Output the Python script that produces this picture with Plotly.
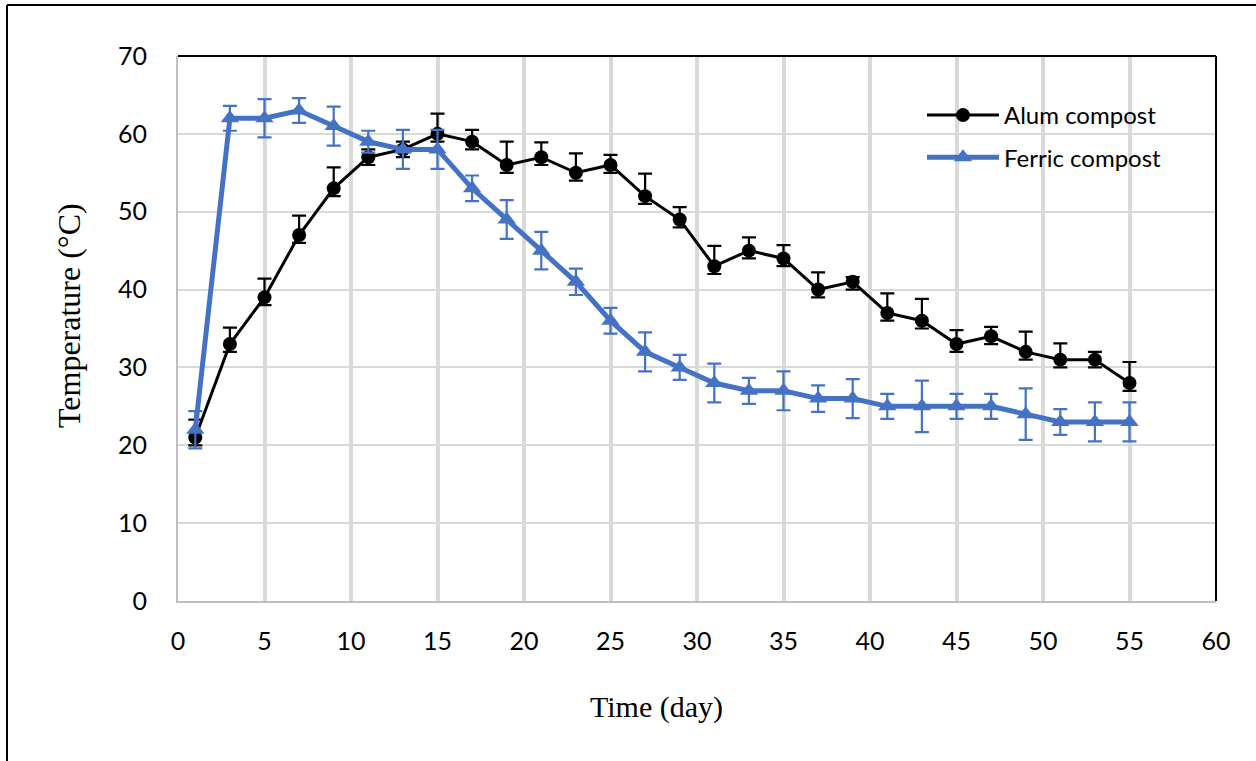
import plotly.graph_objects as go

days = [1, 3, 5, 7, 9, 11, 13, 15, 17, 19, 21, 23, 25, 27, 29, 31, 33, 35, 37, 39, 41, 43, 45, 47, 49, 51, 53, 55]

alum = [21, 33, 39, 47, 53, 57, 58, 60, 59, 56, 57, 55, 56, 52, 49, 43, 45, 44, 40, 41, 37, 36, 33, 34, 32, 31, 31, 28]
alum_err_plus = [2.3, 2.1, 2.4, 2.5, 2.7, 1.0, 1.0, 2.6, 1.5, 3.0, 1.9, 2.5, 1.3, 2.9, 1.6, 2.6, 1.7, 1.7, 2.2, 0.6, 2.5, 2.8, 1.8, 1.2, 2.6, 2.1, 1.0, 2.7]
alum_err_minus = [1.0] * len(days)

ferric = [22, 62, 62, 63, 61, 59, 58, 58, 53, 49, 45, 41, 36, 32, 30, 28, 27, 27, 26, 26, 25, 25, 25, 25, 24, 23, 23, 23]
ferric_err = [2.4, 1.6, 2.45, 1.6, 2.5, 1.4, 2.5, 2.5, 1.65, 2.5, 2.4, 1.7, 1.65, 2.5, 1.6, 2.5, 1.67, 2.5, 1.7, 2.5, 1.6, 3.3, 1.6, 1.6, 3.3, 1.65, 2.5, 2.5]

x_ticks = [0, 5, 10, 15, 20, 25, 30, 35, 40, 45, 50, 55, 60]
y_ticks = [0, 10, 20, 30, 40, 50, 60, 70]

BLUE = "#4472C4"
GRID = "#D9D9D9"
TICKFONT = dict(family="Lato, 'Open Sans', sans-serif", size=25, color="#000000")
SERIF = "'Liberation Serif', 'Times New Roman', serif"

fig = go.Figure()

fig.add_trace(go.Scatter(
    x=days, y=alum, name="Alum compost", mode="lines+markers",
    line=dict(color="#000000", width=3),
    marker=dict(symbol="circle", size=14, color="#000000"),
    error_y=dict(type="data", array=alum_err_plus, arrayminus=alum_err_minus,
                 color="#000000", thickness=2.2, width=7, visible=True),
    legendgroup="a",
))

fig.add_trace(go.Scatter(
    x=days, y=ferric, name="Ferric compost", mode="lines+markers",
    line=dict(color=BLUE, width=5),
    marker=dict(symbol="triangle-up", size=16, color=BLUE),
    error_y=dict(type="data", array=ferric_err, symmetric=True,
                 color=BLUE, thickness=2.2, width=7, visible=True),
    legendgroup="b",
))

W, H = 1256, 761
L, T = 178, 56
pw, ph = 1038, 545
R = W - L - pw
B = H - T - ph

def px_x(p):
    return (p - L) / pw

def px_y(p):
    return (T + ph - p) / ph

fig.update_layout(
    width=W, height=H,
    margin=dict(l=L, r=R, t=T, b=B, pad=0),
    paper_bgcolor="#FFFFFF", plot_bgcolor="#FFFFFF",
    showlegend=True,
    legend=dict(
        x=px_x(922), y=px_y(93), xanchor="left", yanchor="top",
        font=dict(family="Lato, 'Open Sans', sans-serif", size=24, color="#000000"),
        bgcolor="rgba(0,0,0,0)", borderwidth=0,
        itemwidth=72, traceorder="grouped", tracegroupgap=8,
    ),
    xaxis=dict(
        range=[0, 60], tickmode="array", tickvals=x_ticks, ticktext=[str(v) for v in x_ticks],
        showgrid=True, gridcolor=GRID, gridwidth=4,
        showline=True, linecolor="#BFBFBF", linewidth=2,
        ticks="", tickfont=TICKFONT, ticklabelstandoff=17,
        zeroline=False, fixedrange=True,
    ),
    yaxis=dict(
        range=[0, 70], tickmode="array", tickvals=y_ticks, ticktext=[str(v) for v in y_ticks],
        showgrid=True, gridcolor=GRID, gridwidth=2,
        showline=True, linecolor="#BFBFBF", linewidth=2,
        ticks="", tickfont=TICKFONT, ticklabelstandoff=24,
        zeroline=False, fixedrange=True,
    ),
    shapes=[
        # plot area top and right borders
        dict(type="line", xref="paper", yref="paper", x0=0, x1=1, y0=1, y1=1,
             line=dict(color="#000000", width=2)),
        dict(type="line", xref="paper", yref="paper", x0=1, x1=1, y0=0, y1=1,
             line=dict(color="#000000", width=2)),
        # outer frame (top and left visible)
        dict(type="line", xref="paper", yref="paper", x0=px_x(7), x1=px_x(W + 20), y0=px_y(5), y1=px_y(5),
             line=dict(color="#000000", width=2)),
        dict(type="line", xref="paper", yref="paper", x0=px_x(7), x1=px_x(7), y0=px_y(5), y1=px_y(H + 20),
             line=dict(color="#000000", width=2)),
    ],
    annotations=[
        dict(text="Time (day)", xref="paper", yref="paper", x=px_x(656), y=px_y(707),
             xanchor="center", yanchor="middle", showarrow=False,
             font=dict(family=SERIF, size=30, color="#000000")),
        dict(text="Temperature (°C)", xref="paper", yref="paper", x=px_x(69), y=px_y(316),
             xanchor="center", yanchor="middle", showarrow=False, textangle=-90,
             font=dict(family=SERIF, size=32, color="#000000")),
    ],
)

fig.write_html(
    "out.html",
    config={"displayModeBar": False},
    post_script="document.body.style.margin='0px';document.body.style.overflow='hidden';",
)
